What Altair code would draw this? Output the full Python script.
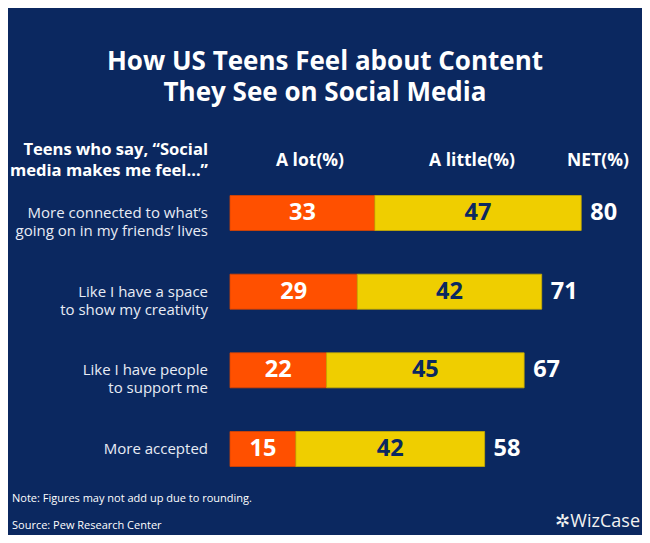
import altair as alt
import pandas as pd

categories = [
    "More connected to what\u2019s\ngoing on in my friends\u2019 lives",
    "Like I have a space\nto show my creativity",
    "Like I have people\nto support me",
    "More accepted",
]
a_lot = [33, 29, 22, 15]
a_little = [47, 42, 45, 42]
net = [80, 71, 67, 58]

NAVY = "#0b2860"
ORANGE = "#ff5000"
YELLOW = "#efce00"
FONT = "Open Sans"

df = pd.DataFrame({"cat": categories, "a_lot": a_lot, "a_little": a_little, "net": net})

base = alt.Chart(df).transform_calculate(
    zero="0",
    mid_lot="datum.a_lot / 2",
    mid_little="(datum.a_lot + datum.net) / 2",
)

xs = alt.Scale(domain=[0, 80], range=[222, 573.2])
ys = alt.Scale(type="point", domain=categories, range=[205, 441], padding=0)
Y = alt.Y("cat:N", scale=ys, axis=None)

orange = base.mark_bar(height=35, color=ORANGE, stroke="#d94400", strokeWidth=0.8).encode(
    x=alt.X("zero:Q", scale=xs, axis=None), x2="a_lot:Q", y=Y
)
yellow = base.mark_bar(height=35, color=YELLOW, stroke="#c9ad00", strokeWidth=0.8).encode(
    x=alt.X("a_lot:Q", scale=xs, axis=None), x2="net:Q", y=Y
)
lbl_lot = base.mark_text(font=FONT, fontWeight="bold", fontSize=23.5, color="white", baseline="middle").encode(
    x=alt.X("mid_lot:Q", scale=xs, axis=None), y=Y, text="a_lot:Q"
)
lbl_little = base.mark_text(font=FONT, fontWeight="bold", fontSize=23.5, color=NAVY, baseline="middle").encode(
    x=alt.X("mid_little:Q", scale=xs, axis=None), y=Y, text="a_little:Q"
)
lbl_net = base.mark_text(font=FONT, fontWeight="bold", fontSize=23.5, color="white", baseline="middle",
                         align="left", dx=9).encode(
    x=alt.X("net:Q", scale=xs, axis=None), y=Y, text="net:Q"
)
cat_lbl = base.mark_text(font=FONT, fontSize=15, color="#e8ecf5", baseline="middle", align="right",
                         lineBreak="\n", lineHeight=18).encode(
    x=alt.value(200), y=Y, text="cat:N"
)

one = pd.DataFrame({"k": [0]})


def note(text, x, y, size, weight="normal", align="center", color="white", lh=None, font=FONT):
    kw = dict(text=text, font=font, fontSize=size, fontWeight=weight, align=align,
              baseline="middle", color=color, lineBreak="\n")
    if lh:
        kw["lineHeight"] = lh
    return alt.Chart(one).mark_text(**kw).encode(x=alt.value(x), y=alt.value(y))


texts = [
    note("How US Teens Feel about Content\nThey See on Social Media", 317, 53.5, 26, "bold", lh=31),
    note("Teens who say, \u201cSocial\nmedia makes me feel\u2026\u201d", 200, 141.5, 16.6, "bold", "right", lh=21),
    note("A lot(%)", 302, 153, 17.5, "bold"),
    note("A little(%)", 464, 153, 17.5, "bold"),
    note("NET(%)", 590, 153, 17.5, "bold"),
    note("Note: Figures may not add up due to rounding.", 4, 491, 11, align="left"),
    note("Source: Pew Research Center", 4, 518, 11, align="left"),
    note("\u2732WizCase", 632, 514, 18, align="right", color="#f2f2f2"),
]

chart = alt.layer(orange, yellow, lbl_lot, lbl_little, lbl_net, cat_lbl, *texts).properties(
    width=634, height=527, background=NAVY, padding=0,
    autosize=alt.AutoSizeParams(type="none"),
).configure_view(stroke=None)

chart.save("out.html", embed_options={"renderer": "svg", "actions": False})
